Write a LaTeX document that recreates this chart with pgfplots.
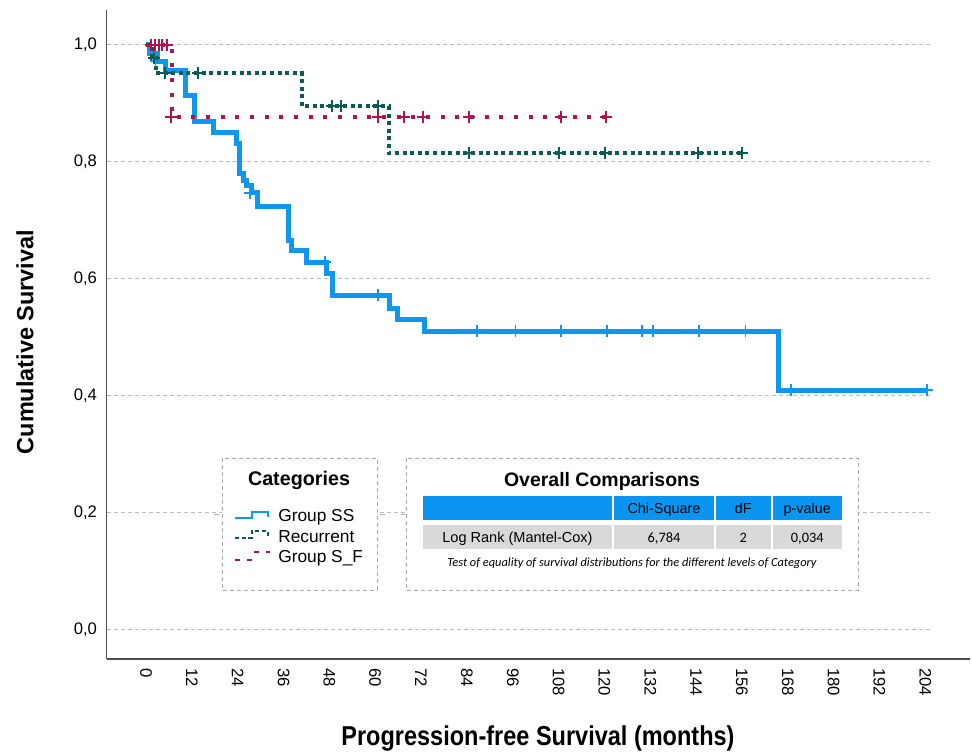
\documentclass[border=0pt]{standalone}
\usepackage{fontspec}
\setmainfont{Liberation Sans}
\newfontfamily\carlito{Carlito}
\usepackage{pgfplots}
\pgfplotsset{compat=1.18}
\definecolor{kmblue}{RGB}{16,150,236}
\definecolor{kmgreen}{RGB}{10,90,85}
\definecolor{kmred}{RGB}{175,20,80}
\definecolor{gridgray}{RGB}{190,190,190}
\definecolor{boxgray}{RGB}{170,170,170}
\definecolor{rowgray}{RGB}{217,217,217}
\definecolor{headblue}{RGB}{10,150,240}
\begin{document}
\begin{tikzpicture}[x=0.75pt,y=-0.75pt]
\useasboundingbox (0,0) rectangle (972,753);
\begin{axis}[
  at={(80pt,-494.25pt)}, anchor=south west,
  scale only axis, width=647.5pt, height=486.75pt,
  xmin=-10.3, xmax=215.7, ymin=-0.0496, ymax=1.0598,
  axis x line*=bottom, axis y line*=left,
  axis line style={-, draw=black!70, line width=1.1pt},
  xtick={0,12,...,204}, ytick={0,0.2,0.4,0.6,0.8,1},
  major tick length=0pt,
  tick label style={font=\fontsize{12.5}{14}\selectfont},
  xticklabel style={rotate=-90, anchor=west, inner xsep=6.75pt, inner ysep=0pt, outer sep=0pt},
  yticklabel style={anchor=east, inner xsep=7.3pt, outer sep=0pt,
    /pgf/number format/fixed, /pgf/number format/fixed zerofill,
    /pgf/number format/precision=1, /pgf/number format/use comma},
  /pgf/number format/assume math mode=true,
  clip=false,
]
% grid lines
\foreach \g in {0,0.2,0.4,0.6,0.8,1.0}{
  \edef\tmp{\noexpand\draw[gridgray, line width=0.75pt, dash pattern=on 3pt off 2.25pt] (axis cs:-10.3,\g) -- (axis cs:205.2,\g);}\tmp
}
% Group SS
\addplot[const plot, draw=kmblue, line width=3.75pt, mark=none] coordinates {
(0,1.000) (1,0.986) (3,0.972) (5,0.957) (10.3,0.913) (12.7,0.870) (17.6,0.850)
(23.8,0.832) (24.6,0.781) (25.6,0.769) (26.4,0.760) (27.5,0.747) (29.3,0.724)
(37.2,0.666) (38.2,0.649) (42.0,0.629) (47.2,0.610) (48.7,0.572) (63.7,0.550)
(65.8,0.531) (72.8,0.511) (165.5,0.410) (204.5,0.410)};
\addplot[only marks, mark=+, mark size=4.5pt, draw=kmblue, mark options={line width=1.3pt}] coordinates {
(2.5,0.972) (27.2,0.747) (46.8,0.629) (60.7,0.572) (86.7,0.511) (96.7,0.511) (108.7,0.511)
(120.7,0.511) (129.9,0.511) (132.8,0.511) (144.8,0.511) (156.9,0.511) (168.9,0.410) (204.5,0.410)};
% Recurrent
\addplot[const plot, draw=kmgreen, line width=3pt, dash pattern=on 3pt off 2.7pt, mark=none] coordinates {
(0,1.000) (1.5,0.977) (2.5,0.952) (40.8,0.895) (63.6,0.815) (156.1,0.815)};
\addplot[only marks, mark=+, mark size=4.5pt, draw=kmgreen, mark options={line width=1.5pt}] coordinates {
(2,0.977) (5.1,0.952) (13.7,0.952) (48.7,0.895) (51,0.895) (60.6,0.895) (84.6,0.815)
(108.1,0.815) (120.2,0.815) (144.6,0.815) (156.1,0.815)};
% Group S_F
\addplot[const plot, draw=kmred, line width=3pt, dash pattern=on 3pt off 8pt, mark=none] coordinates {
(0,1.000) (6.7,0.877) (120.5,0.877)};
\addplot[only marks, mark=+, mark size=4.5pt, draw=kmred, mark options={line width=1.5pt}] coordinates {
(1.2,1.000) (2.3,1.000) (3.3,1.000) (4.3,1.000) (5.5,1.000) (6.5,0.877) (60.6,0.877)
(67.6,0.877) (72.5,0.877) (84.6,0.877) (108.6,0.877) (120.5,0.877)};
\end{axis}
% axis titles
\node[rotate=90, font=\bfseries\fontsize{17.6}{20}\selectfont] at (25,342) {Cumulative Survival};
\node[anchor=base, font=\bfseries\fontsize{20.5}{24}\selectfont] at (538,745) {\scalebox{0.86}[1]{Progression-free Survival (months)}};
% legend box
\draw[boxgray, fill=white, line width=0.75pt, dash pattern=on 3pt off 2.25pt] (222,458) rectangle (377,590);
\draw[boxgray, line width=0.75pt] (214,514) -- (219,514) (380,514) -- (385,514) (401,514) -- (405,514);
\node[anchor=base, font=\bfseries\fontsize{14.8}{17}\selectfont] at (299,485) {Categories};
\draw[kmblue, line width=1.5pt] (235,518.3) -- (251.7,518.3) -- (251.7,511.7) -- (267.7,511.7) -- (267.7,517);
\draw[kmgreen, line width=1.5pt, dash pattern=on 3pt off 2pt] (235,537.5) -- (251.7,537.5) -- (251.7,531) -- (267.7,531) -- (267.7,536.5);
\draw[kmred, line width=1.5pt, dash pattern=on 4pt off 5pt] (235,560) -- (252,560) (254,551.7) -- (270,551.7);
\node[anchor=base west, font=\fontsize{13}{15}\selectfont, inner sep=0pt] at (278,521.7) {Group SS};
\node[anchor=base west, font=\fontsize{13}{15}\selectfont, inner sep=0pt] at (278,542) {Recurrent};
\node[anchor=base west, font=\fontsize{13}{15}\selectfont, inner sep=0pt] at (278,562) {Group S\_F};
% comparison table
\draw[boxgray, fill=white, line width=0.75pt, dash pattern=on 3pt off 2.25pt] (406,458) rectangle (858,590);
\node[anchor=base, font=\bfseries\fontsize{14.6}{17}\selectfont] at (602,486) {Overall Comparisons};
\fill[headblue] (423,496) rectangle (612,520);
\fill[headblue] (614,496) rectangle (714,520);
\fill[headblue] (716,496) rectangle (770.5,520);
\fill[headblue] (772.5,496) rectangle (842,520);
\fill[rowgray] (423,525) rectangle (612,549);
\fill[rowgray] (614,525) rectangle (714,549);
\fill[rowgray] (716,525) rectangle (770.5,549);
\fill[rowgray] (772.5,525) rectangle (842,549);
\node[anchor=base, font=\fontsize{10.8}{12}\selectfont] at (664,513) {Chi-Square};
\node[anchor=base, font=\fontsize{10.8}{12}\selectfont] at (743.25,513) {dF};
\node[anchor=base, font=\fontsize{10.8}{12}\selectfont] at (807.25,513) {p-value};
\node[anchor=base, font=\fontsize{10.9}{12}\selectfont] at (517.5,542) {Log Rank (Mantel-Cox)};
\node[anchor=base, font=\carlito\fontsize{10.8}{12}\selectfont] at (664,542) {6,784};
\node[anchor=base, font=\carlito\fontsize{10.8}{12}\selectfont] at (743.25,542) {2};
\node[anchor=base, font=\carlito\fontsize{10.8}{12}\selectfont] at (807.25,542) {0,034};
\node[anchor=base, font=\carlito\itshape\fontsize{9.3}{11}\selectfont] at (632,566.5) {Test of equality of survival distributions for the different levels of Category};
\end{tikzpicture}
\end{document}
